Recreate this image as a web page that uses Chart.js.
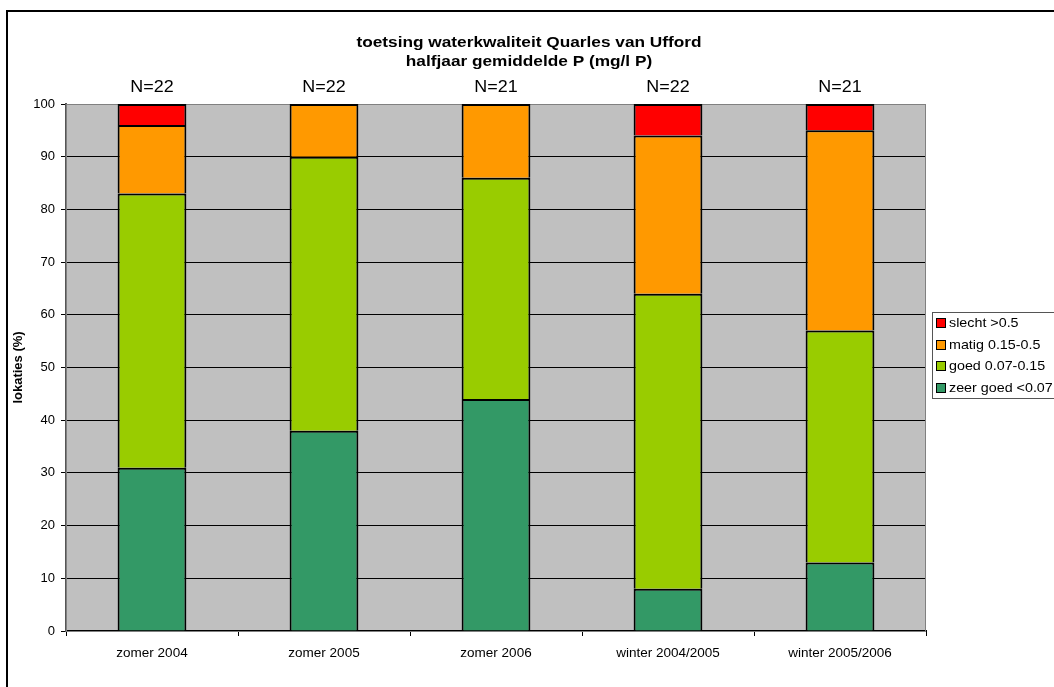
<!DOCTYPE html>
<html>
<head>
<meta charset="utf-8">
<script src="https://cdn.jsdelivr.net/npm/chart.js@4/dist/chart.umd.min.js"></script>
<style>
  html, body { margin: 0; padding: 0; background: #ffffff; }
  #wrap { width: 1054px; height: 687px; }
</style>
</head>
<body>
<div id="wrap"><canvas id="c" width="1054" height="687"></canvas></div>
<script>
// Categories (half-year periods) and number of locations per period
const categories = ['zomer 2004', 'zomer 2005', 'zomer 2006', 'winter 2004/2005', 'winter 2005/2006'];
const sampleCounts = ['N=22', 'N=22', 'N=21', 'N=22', 'N=21'];

// Share of locations (%) per quality class
const zeerGoed = [31, 38, 44, 8, 13];
const goed     = [52, 52, 42, 56, 44];
const matig    = [13, 10, 14, 30, 38];
const slecht   = [4, 0, 0, 6, 5];

const yTicks = [0, 10, 20, 30, 40, 50, 60, 70, 80, 90, 100];
const titleLines = ['toetsing waterkwaliteit Quarles van Ufford', 'halfjaar gemiddelde P (mg/l P)'];

const FONT = '"Liberation Sans", Arial, sans-serif';

// text drawn with a slight horizontal widening
function wideText(ctx, text, x, y, sx) {
  ctx.save();
  ctx.translate(x, y);
  ctx.scale(sx, 1);
  ctx.fillText(text, 0, 0);
  ctx.restore();
}

// Grey plot background, outer frame, title, N labels and legend box
const decorPlugin = {
  id: 'decor',
  beforeDraw(chart) {
    const { ctx, chartArea: a } = chart;
    ctx.save();
    ctx.fillStyle = '#ffffff';
    ctx.fillRect(0, 0, chart.width, chart.height);
    ctx.fillStyle = '#C0C0C0';
    ctx.fillRect(a.left, a.top, a.right - a.left, a.bottom - a.top);
    ctx.strokeStyle = '#000000';
    ctx.lineWidth = 2;
    ctx.strokeRect(7, 11, chart.width + 20, chart.height + 20);
    ctx.restore();
  },
  beforeDatasetsDraw(chart) {
    const { ctx, chartArea: a } = chart;
    ctx.save();
    ctx.strokeStyle = '#808080';
    ctx.lineWidth = 1;
    ctx.strokeRect(a.left + 0.5, a.top + 0.5, a.right - a.left - 1, a.bottom - a.top);
    ctx.restore();
  },
  afterDraw(chart) {
    const { ctx } = chart;
    const xs = chart.scales.x;
    ctx.save();
    ctx.fillStyle = '#000000';
    ctx.textAlign = 'center';
    ctx.textBaseline = 'alphabetic';

    ctx.font = 'bold 15px ' + FONT;
    wideText(ctx, titleLines[0], 529, 47, 1.15);
    wideText(ctx, titleLines[1], 529, 66, 1.15);

    ctx.font = '16px ' + FONT;
    sampleCounts.forEach((t, i) => {
      wideText(ctx, t, xs.getPixelForValue(i), 92, 1.12);
    });

    // legend (top class first)
    const lx = 932, ly = 312, lw = 140, lh = 86;
    ctx.fillStyle = '#ffffff';
    ctx.fillRect(lx, ly, lw, lh);
    ctx.strokeStyle = '#555555';
    ctx.lineWidth = 1;
    ctx.strokeRect(lx + 0.5, ly + 0.5, lw, lh);
    const sets = chart.data.datasets.slice().reverse();
    ctx.font = '13px ' + FONT;
    ctx.textAlign = 'left';
    ctx.textBaseline = 'middle';
    sets.forEach((ds, i) => {
      const cy = 323.5 + i * 21.5;
      const top = Math.round(cy - 4.5);
      ctx.fillStyle = ds.backgroundColor;
      ctx.fillRect(937, top, 8, 8);
      ctx.strokeStyle = '#000000';
      ctx.strokeRect(936.5, top - 0.5, 9, 9);
      ctx.fillStyle = '#000000';
      wideText(ctx, ds.label, 949, cy, 1.1);
    });
    ctx.restore();
  }
};

new Chart(document.getElementById('c'), {
  type: 'bar',
  data: {
    labels: categories,
    datasets: [
      { label: 'zeer goed <0.07', data: zeerGoed, backgroundColor: '#339966' },
      { label: 'goed 0.07-0.15',  data: goed,     backgroundColor: '#99CC00' },
      { label: 'matig 0.15-0.5',  data: matig,    backgroundColor: '#FF9900' },
      { label: 'slecht >0.5',     data: slecht,   backgroundColor: '#FF0000' }
    ].map(d => Object.assign(d, {
      borderColor: '#000000',
      borderWidth: 2,
      borderSkipped: 'bottom',
      categoryPercentage: 1.0,
      barPercentage: 0.4
    }))
  },
  options: {
    responsive: false,
    animation: false,
    devicePixelRatio: 1,
    layout: { padding: { left: 10, top: 104, right: 128, bottom: 0 } },
    plugins: {
      legend: { display: false },
      tooltip: { enabled: false },
      title: { display: false }
    },
    scales: {
      x: {
        stacked: true,
        offset: true,
        grid: {
          offset: true,
          drawOnChartArea: false,
          drawTicks: true,
          tickLength: 5,
          color: '#000000'
        },
        border: { display: true, color: '#000000', width: 2 },
        ticks: { color: '#000000', font: { family: FONT, size: 13.5 }, padding: 9, maxRotation: 0 },
        afterFit(s) { s.height = 56; }
      },
      y: {
        stacked: true,
        min: 0,
        max: 100,
        afterBuildTicks(s) { s.ticks = yTicks.map(v => ({ value: v })); },
        grid: { color: '#000000', tickLength: 5, lineWidth: 1 },
        border: { display: true, color: '#555555', width: 2 },
        ticks: { color: '#000000', font: { family: FONT, size: 13 }, padding: 6 },
        title: {
          display: true,
          text: 'lokaties (%)',
          color: '#000000',
          font: { family: FONT, size: 13, weight: 'bold' },
          padding: { top: 1, bottom: 0 }
        },
        afterFit(s) { s.width = 56; }
      }
    }
  },
  plugins: [decorPlugin]
});
</script>
</body>
</html>
